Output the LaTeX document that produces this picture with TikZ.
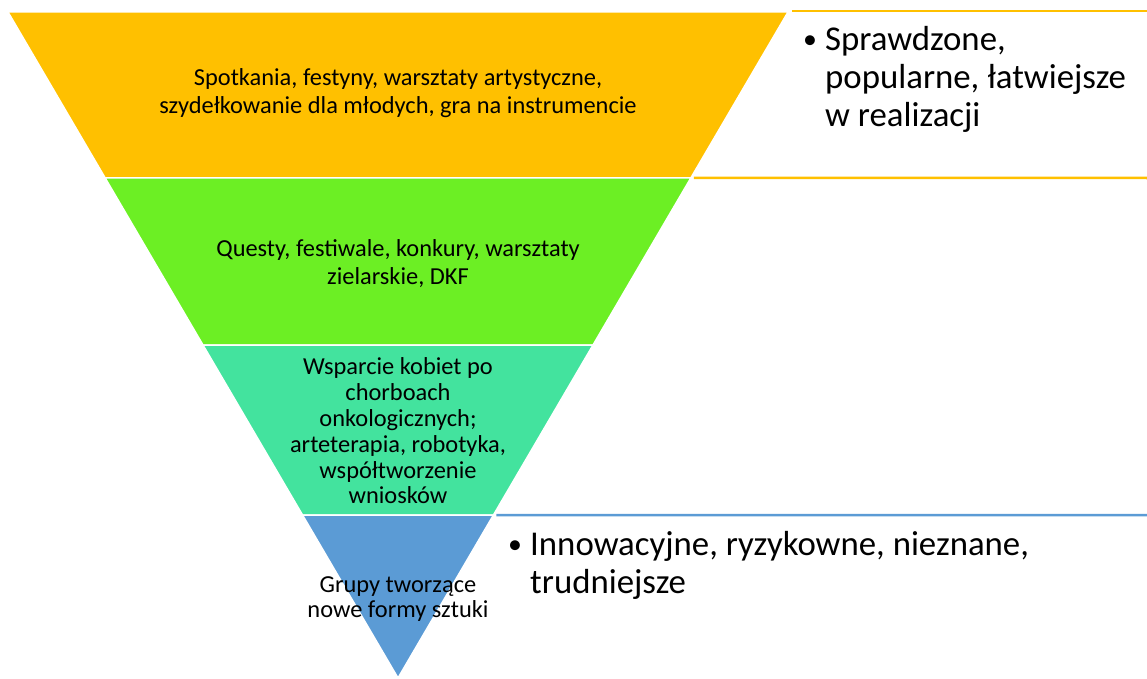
\documentclass[tikz,border=0pt]{standalone}
\usepackage{graphicx}
\usepackage{fontspec}
\setmainfont{Carlito}
\usetikzlibrary{calc}
\definecolor{tierA}{HTML}{FFC000}
\definecolor{tierB}{HTML}{6CEF24}
\definecolor{tierC}{HTML}{43E39E}
\definecolor{tierD}{HTML}{5B9BD5}
\tikzset{
  tier/.style = {draw=white, line width=1.5pt},
  tiertext/.style = {align=center, inner sep=0pt, font=\fontsize{24.4}{28}\selectfont},
  notetext/.style = {align=left, inner sep=0pt, anchor=north west, font=\fontsize{34.8}{38}\selectfont},
  rule/.style = {line width=2.5pt},
}
\newcommand{\bul}{\makebox[22pt][l]{\raisebox{1.5pt}{\scalebox{0.8}{\textbullet}}}}
\newcommand{\nobul}{\hspace*{22pt}}

\begin{document}
\begin{tikzpicture}[x=1pt, y=-1pt]
    \useasboundingbox (0,0) rectangle (1147,679);

    % Inverted pyramid corners
    \coordinate (tl) at (8,12);
    \coordinate (tr) at (788,12);
    \coordinate (apex) at (398,678);

    % Tier boundaries along the two slanted sides
    \coordinate (l1) at ($(tl)!0.2492!(apex)$);
    \coordinate (r1) at ($(tr)!0.2492!(apex)$);
    \coordinate (l2) at ($(tl)!0.5!(apex)$);
    \coordinate (r2) at ($(tr)!0.5!(apex)$);
    \coordinate (l3) at ($(tl)!0.7553!(apex)$);
    \coordinate (r3) at ($(tr)!0.7553!(apex)$);

    \fill[tierA, tier] (tl) -- (tr) -- (r1) -- (l1) -- cycle;
    \fill[tierB, tier] (l1) -- (r1) -- (r2) -- (l2) -- cycle;
    \fill[tierC, tier] (l2) -- (r2) -- (r3) -- (l3) -- cycle;
    \fill[tierD, tier] (l3) -- (r3) -- (apex) -- cycle;

    \node[tiertext] (spotkania) at (398,93) {Spotkania, festyny, warsztaty artystyczne,\\
      szydełkowanie dla młodych, gra na instrumencie};
    \node[tiertext] (questy) at (398,264) {Questy, festiwale, konkury, warsztaty\\
      zielarskie, DKF};
    \node[tiertext, font=\fontsize{24.4}{25.8}\selectfont] (wsparcie) at (398,431) {Wsparcie kobiet po\\
      chorboach\\ onkologicznych;\\ arteterapia, robotyka,\\ współtworzenie\\ wniosków};
    \node[tiertext, font=\fontsize{24.4}{25}\selectfont] (grupy) at (398,599) {Grupy tworzące\\
      nowe formy sztuki};

    % Side notes with their rules
    \coordinate (topend) at (1147,11);
    \coordinate (midend) at (1147,178);
    \coordinate (lowend) at (1147,515);
    \draw[rule, tierA] ([xshift=4pt, yshift=1pt]tr) -- (topend);
    \draw[rule, tierA] ([xshift=3pt]r1) -- (midend);
    \draw[rule, tierD] ([xshift=3pt]r3) -- (lowend);

    \node[notetext] (sprawdzone) at (803,26) {\bul Sprawdzone,\\
      \nobul popularne, łatwiejsze\\ \nobul w realizacji};
    \node[notetext] (innowacyjne) at (508,531) {\bul Innowacyjne, ryzykowne, nieznane,\\
      \nobul trudniejsze};

  \end{tikzpicture}
\end{document}
